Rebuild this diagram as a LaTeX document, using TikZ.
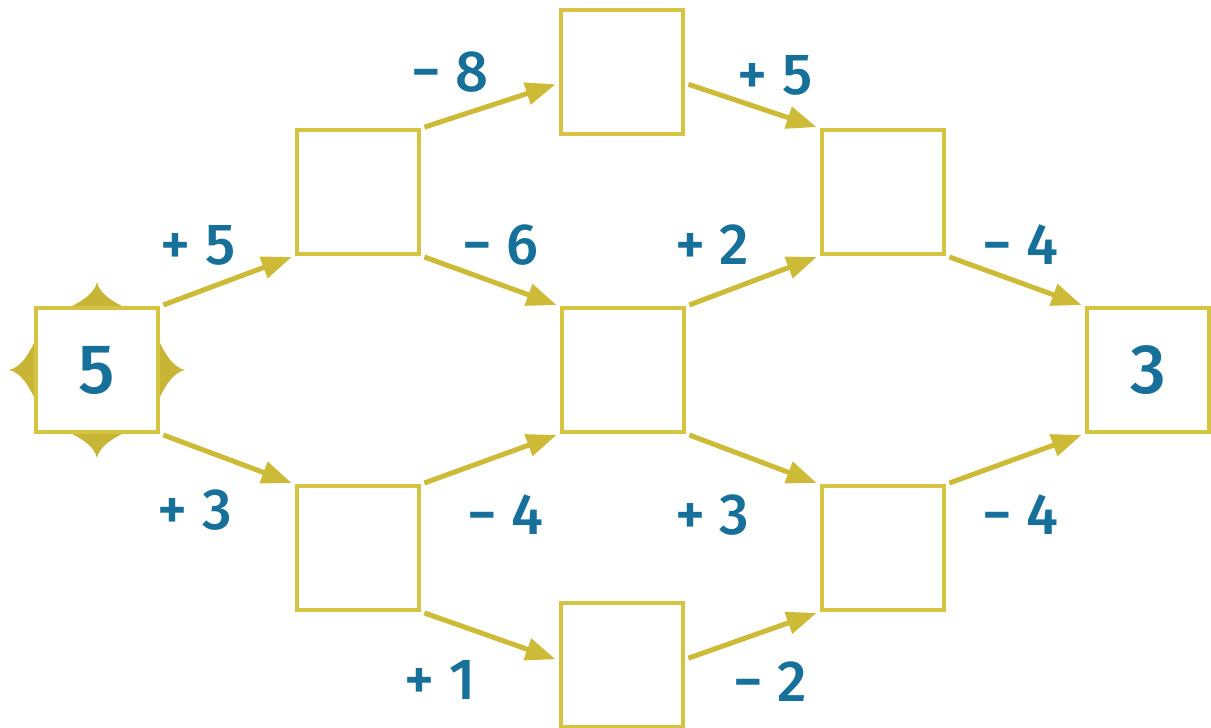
\documentclass[tikz,border=0pt]{standalone}
\usepackage{fontspec}
\setmainfont{Fira Sans}
\newfontfamily\medfont{Fira Sans Medium}
\usetikzlibrary{arrows.meta}
\definecolor{boxc}{HTML}{D4C442}
\definecolor{arrc}{HTML}{CDBB38}
\definecolor{txtc}{HTML}{17709A}
\definecolor{starc}{HTML}{C9B535}
\begin{document}
\begin{tikzpicture}[x=0.5pt,y=0.5pt,
 box/.style={draw=boxc, line width=1.6pt, minimum width=61pt, minimum height=62pt, inner sep=0pt, fill=white, font=\fontsize{35}{40}\selectfont\medfont, text=txtc},
 conn/.style={draw=arrc, line width=2.5pt, -{Triangle[length=15pt,width=11pt]}, shorten <=2pt, shorten >=2pt},
 lbl/.style={text=txtc, font=\fontsize{29}{32}\selectfont\medfont}]
\useasboundingbox (0,0) rectangle (1211,728);
% bumps behind the start box
\foreach \r in {0,90,180,270}{
  \fill[starc, shift={(97,358)}, rotate=\r]
    (-40,58) .. controls (-30,61) and (-22,65) .. (-13,71)
    .. controls (-6,76) and (-1,82) .. (0,88)
    .. controls (1,82) and (6,76) .. (13,71)
    .. controls (22,65) and (30,61) .. (40,58) -- (40,40) -- (-40,40) -- cycle;
}
\node[box] (s)  at (97,358)  {5};
\node[box] (a)  at (358,536) {};
\node[box] (b)  at (358,180) {};
\node[box] (t)  at (622,656) {};
\node[box] (m)  at (623,358) {};
\node[box] (bo) at (622,63)  {};
\node[box] (ur) at (883,536) {};
\node[box] (lr) at (883,180) {};
\node[box] (e)  at (1148,358) {3};
% connectors
\draw[conn] (s.north east) -- (a.south west);
\draw[conn] (s.south east) -- (b.north west);
\draw[conn] (a.north east) -- (t.190);
\draw[conn] (a.south east) -- (m.north west);
\draw[conn] (b.north east) -- (m.south west);
\draw[conn] (b.south east) -- (bo.176);
\draw[conn] (t.350) -- (ur.north west);
\draw[conn] (m.north east) -- (ur.south west);
\draw[conn] (m.south east) -- (lr.north west);
\draw[conn] (bo.5) -- (lr.south west);
\draw[conn] (ur.south east) -- (e.north west);
\draw[conn] (lr.north east) -- (e.south west);
% labels
\node[lbl] (l1)  at (198,483) {+ 5};
\node[lbl] (l2)  at (195,218) {+ 3};
\node[lbl] (l3)  at (450,656) {− 8};
\node[lbl] (l4)  at (500,483) {− 6};
\node[lbl] (l5)  at (505,213) {− 4};
\node[lbl] (l6)  at (440,48)  {+ 1};
\node[lbl] (l7)  at (775,653) {+ 5};
\node[lbl] (l8)  at (712,483) {+ 2};
\node[lbl] (l9)  at (712,213) {+ 3};
\node[lbl] (l10) at (770,46)  {− 2};
\node[lbl] (l11) at (1020,483) {− 4};
\node[lbl] (l12) at (1020,213) {− 4};
\end{tikzpicture}
\end{document}
